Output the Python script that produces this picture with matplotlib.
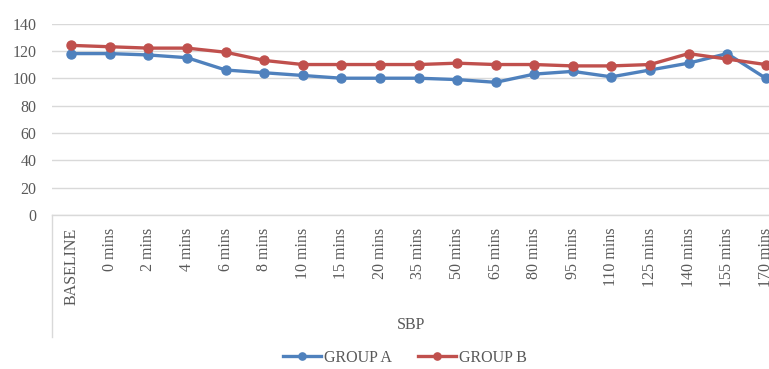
import matplotlib
matplotlib.use("Agg")
import matplotlib.pyplot as plt
from matplotlib.lines import Line2D

categories = ["BASELINE", "0 mins", "2 mins", "4 mins", "6 mins", "8 mins", "10 mins",
              "15 mins", "20 mins", "35 mins", "50 mins", "65 mins", "80 mins", "95 mins",
              "110 mins", "125 mins", "140 mins", "155 mins", "170 mins"]
group_a = [118, 118, 117, 115, 106, 104, 102, 100, 100, 100, 99, 97, 103, 105, 101, 106, 111, 118, 100]
group_b = [124, 123, 122, 122, 119, 113, 110, 110, 110, 110, 111, 110, 110, 109, 109, 110, 118, 114, 110]
y_ticks = [0, 20, 40, 60, 80, 100, 120, 140]
x_title = "SBP"
series_names = ["GROUP A", "GROUP B"]

W, H = 769, 369
plt.rcParams['font.family'] = ['Liberation Serif', 'DejaVu Serif']
text_color = "#595959"

fig = plt.figure(figsize=(W / 100, H / 100), dpi=100)
left, right, top, bottom = 52, 785, 23.5, 215
ax = fig.add_axes([left / W, 1 - bottom / H, (right - left) / W, (bottom - top) / H])

x = list(range(len(categories)))
blue = "#4F81BD"
red = "#C0504D"
ax.plot(x, group_a, color=blue, lw=2.4, marker="o", ms=6.5, label=series_names[0],
        solid_joinstyle="round", zorder=3)
ax.plot(x, group_b, color=red, lw=2.4, marker="o", ms=6.5, label=series_names[1],
        solid_joinstyle="round", zorder=4)

ax.set_xlim(-0.5, len(categories) - 0.5)
ax.set_ylim(0, 140)
ax.set_yticks(y_ticks)
ax.set_yticklabels([str(v) for v in y_ticks])
ax.set_xticks(x)
ax.set_xticklabels(categories, rotation=90, va="top", ha="center")
ax.grid(axis="y", color="#D9D9D9", lw=1)
ax.set_axisbelow(True)
for s in ["top", "right", "left"]:
    ax.spines[s].set_visible(False)
ax.spines["bottom"].set_color("#D9D9D9")
ax.spines["bottom"].set_linewidth(1)
ax.tick_params(axis="both", length=0, labelsize=11.5, colors=text_color)
ax.tick_params(axis="y", pad=11)
ax.tick_params(axis="x", pad=9)

# left vertical line extending below the axis (category axis frame)
fig.add_artist(Line2D([left / W, left / W], [1 - bottom / H, 1 - 337 / H],
                      color="#D9D9D9", lw=1, transform=fig.transFigure))

fig.text(411 / W, 1 - 325 / H, x_title, ha="center", va="center", fontsize=11.5, color=text_color)

leg = fig.legend(loc="center", bbox_to_anchor=(405 / W, 1 - 358 / H), ncol=2, frameon=False,
                 fontsize=11.5, handlelength=2.4, handletextpad=0.2, columnspacing=1.6,
                 markerscale=0.8)
for t in leg.get_texts():
    t.set_color(text_color)

fig.savefig("out.png", dpi=100)
